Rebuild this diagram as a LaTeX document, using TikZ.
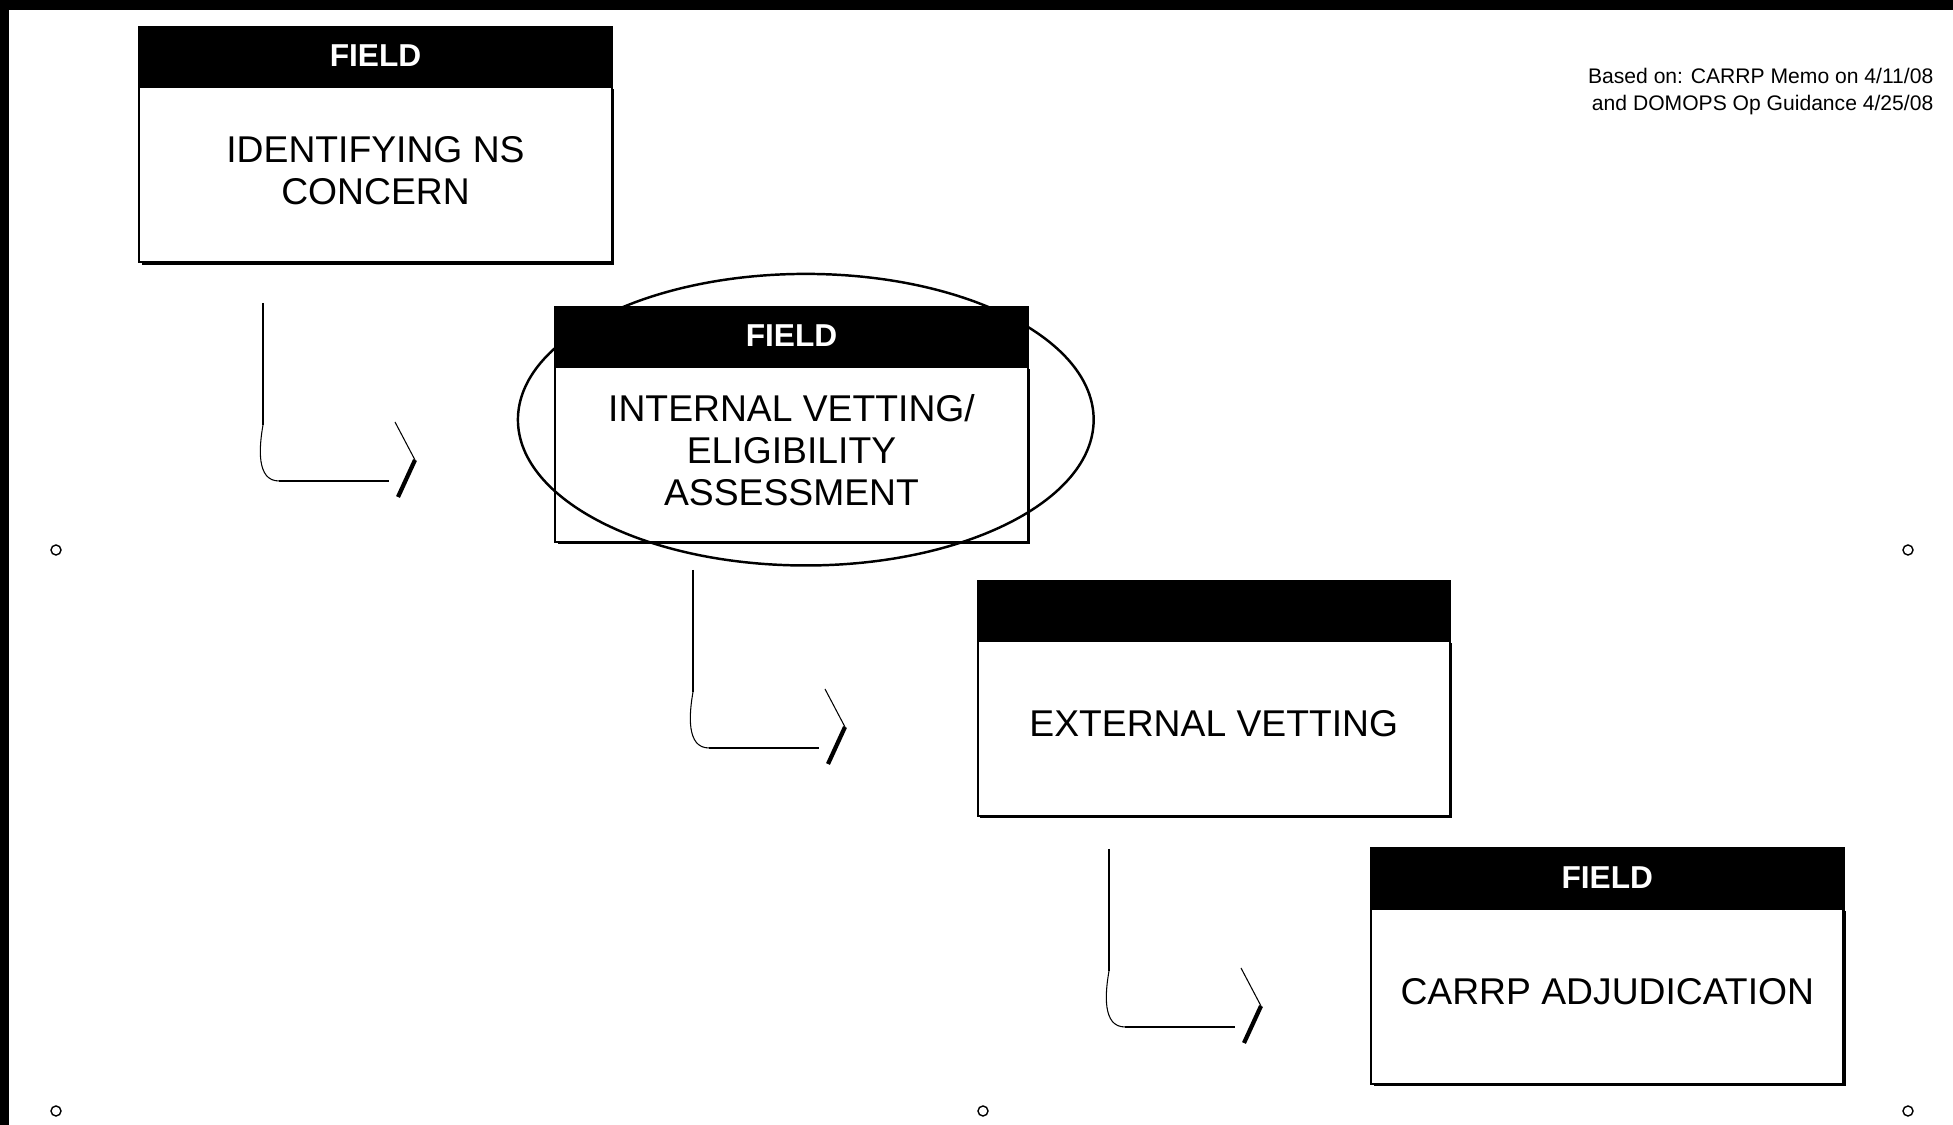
\documentclass[tikz,border=0pt]{standalone}
\usepackage{fontspec}
\setmainfont{Liberation Sans}
\usetikzlibrary{positioning,shadows}

\begin{document}
\begin{tikzpicture}[
    x=0.01cm, y=0.01cm,
    body/.style={rectangle, draw, line width=0.6pt, fill=white, minimum width=4.72cm, minimum height=1.75cm, align=center, text depth=2.5pt, font=\fontsize{10.6}{12}\selectfont, drop shadow={opacity=1, fill=black, shadow xshift=0.025cm, shadow yshift=-0.025cm}},
    head/.style={rectangle, draw, line width=0.6pt, fill=black, text=white, minimum width=4.72cm, minimum height=0.58cm, font=\fontsize{9}{10}\selectfont\bfseries},
    flow/.style={line width=0.7pt},
    faint/.style={line width=0.3pt},
    barb/.style={line width=1.2pt},
    handle/.style={circle, draw, line width=0.4pt, minimum size=0.1cm, inner sep=0pt}
]
    % page frame
    \fill[white] (0,0) rectangle (1953,-1125);
    \useasboundingbox (0,0) rectangle (1953,-1125);
    \fill[black] (0,0) rectangle (1953,-10);
    \fill[black] (0,0) rectangle (9,-1125);

    % the four steps
    \node[body] (ident) at (375.5,-174.5) {IDENTIFYING NS\\CONCERN};
    \node[head, above=0pt of ident] (identh) {FIELD};
    \node[body] (intern) at (791.5,-454.3) {INTERNAL VETTING/\\ELIGIBILITY\\ASSESSMENT};
    \node[head, above=0pt of intern] (internh) {FIELD};
    \node[body] (extern) at (1213.8,-728.3) {EXTERNAL VETTING};
    \node[head, above=0pt of extern] (externh) {};
    \node[body] (adjud) at (1607.3,-996.1) {CARRP ADJUDICATION};
    \node[head, above=0pt of adjud] (adjudh) {FIELD};

    % ring round the second step
    \draw[line width=0.7pt] (805.8,-419.7) ellipse [x radius=2.877cm, y radius=1.457cm];

    % elbow arrows
    \foreach \x/\y [count=\i] in {263/303, 693/570, 1109/849} {
        \coordinate (a\i) at (\x,-\y);
        \draw[flow] (a\i) -- ++(0,-122) coordinate (b\i);
        \draw[faint] (b\i) to[out=-100,in=180] ++(16,-56) coordinate (c\i);
        \draw[flow] (c\i) -- ++(110,0) coordinate (d\i);
        \draw[faint] ([shift={(132,-119)}]a\i) -- ([shift={(152,-157)}]a\i) coordinate (t\i);
        \draw[barb] (t\i) -- ([shift={(135,-194)}]a\i);
    }

    % sizing handles
    \foreach \x/\y [count=\i] in {56/550, 56/1111, 983/1111, 1908/550, 1908/1111}
        \node[handle] (h\i) at (\x,-\y) {};

    \node[font=\fontsize{6}{7.7}\selectfont, align=right, anchor=east, inner sep=0pt] (note) at (1934,-91.5) {Based on: CARRP Memo on 4/11/08\\and DOMOPS Op Guidance 4/25/08};
\end{tikzpicture}
\end{document}
